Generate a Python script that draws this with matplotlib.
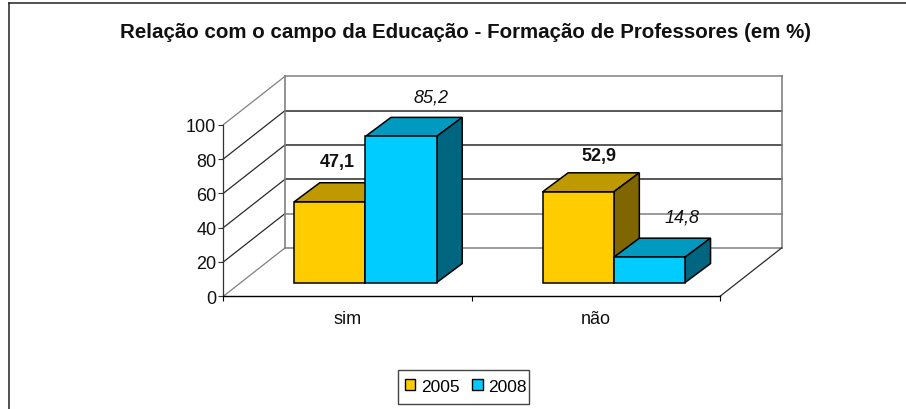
import matplotlib
matplotlib.use("Agg")
import matplotlib.pyplot as plt
from matplotlib.lines import Line2D
from matplotlib.patches import Patch, Rectangle

# data
categories = ["sim", "não"]
series_names = ["2005", "2008"]
values_2005 = [47.1, 52.9]
values_2008 = [85.2, 14.8]
labels_2005 = ["47,1", "52,9"]
labels_2008 = ["85,2", "14,8"]
y_ticks = [0, 20, 40, 60, 80, 100]

# style
W, H = 906, 410
plt.rcParams["font.family"] = ["Liberation Sans", "DejaVu Sans"]
fig = plt.figure(figsize=(W / 100, H / 100), dpi=100, facecolor="white")
L, R, B, T = 223.3, 720.0, 297.3, 125.7
ax = fig.add_axes([L / W, 1 - B / H, (R - L) / W, (B - T) / H])
ax.set_xlim(0, 2)
ax.set_ylim(0, 100)
ax.patch.set_alpha(0)

GRID, WALL = "#2a2a2a", "#808080"
lw_px = 0.9
wall_dx, wall_dy = 0.2484, 28.2      # depth of the plot box
bar_dx, bar_dy = 0.1027, 11.07       # depth of a bar
shift_x, lift = 0.0725, 8.0          # bar placement on the floor
bar_w = 0.2867
kw = dict(clip_on=False)

# walls and gridlines
for v in y_ticks:
    c = WALL if v in (0, 100) else GRID
    ax.plot([0, wall_dx], [v, v + wall_dy], color=c, lw=lw_px, zorder=1, **kw)
    ax.plot([wall_dx, 2 + wall_dx], [v + wall_dy, v + wall_dy],
            color=WALL if v in (0, 20, 100) else GRID, lw=lw_px + 0.2, zorder=1, **kw)
ax.plot([wall_dx, wall_dx], [wall_dy, 100 + wall_dy], color=WALL, lw=1.2, zorder=1, **kw)
ax.plot([2 + wall_dx, 2 + wall_dx], [wall_dy, 100 + wall_dy], color=WALL, lw=1.2, zorder=1, **kw)
ax.plot([2, 2 + wall_dx], [0, wall_dy], color=GRID, lw=lw_px, zorder=1, **kw)

series = [
    (values_2005, labels_2005, "#FFCC00", "#BF9900", "#7F6600", -1, "bold", "normal",
     [(7, -40), (21, -36)]),
    (values_2008, labels_2008, "#00CCFF", "#0099BF", "#006680", 0, "normal", "italic",
     [(30, -39), (33, -40)]),
]

z = 2
for i, cat in enumerate(categories):
    for vals, labs, front, top, side, pos, weight, style, offs in series:
        v = vals[i]
        x0 = i + 0.5 + shift_x + pos * bar_w
        x1 = x0 + bar_w
        y0, y1 = lift, lift + v
        ax.fill([x0, x1, x1 + bar_dx, x0 + bar_dx], [y1, y1, y1 + bar_dy, y1 + bar_dy],
                fc=top, ec="black", lw=1.1, zorder=z, joinstyle="miter", **kw)
        ax.fill([x1, x1 + bar_dx, x1 + bar_dx, x1], [y0, y0 + bar_dy, y1 + bar_dy, y1],
                fc=side, ec="black", lw=1.1, zorder=z, joinstyle="miter", **kw)
        ax.bar(x0, v, width=bar_w, bottom=lift, align="edge", color=front,
               edgecolor="black", linewidth=1.1, zorder=z + 0.5, **kw)
        z += 1
        dx, dy = offs[i]
        ax.annotate(labs[i], xy=(x0 + bar_w / 2, y1), xytext=(dx * 0.72, -dy * 0.72),
                    textcoords="offset points", ha="center", va="center",
                    fontsize=13, fontweight=weight, fontstyle=style,
                    color="#111111", zorder=50, annotation_clip=False)

# axes
for s in ("top", "right"):
    ax.spines[s].set_visible(False)
ax.spines["left"].set_color("#333333")
ax.spines["left"].set_linewidth(0.9)
ax.spines["bottom"].set_color("black")
ax.spines["bottom"].set_linewidth(1.0)
ax.spines["left"].set_zorder(10)
ax.spines["bottom"].set_zorder(10)
ax.set_yticks(y_ticks)
ax.tick_params(axis="y", labelsize=13, length=3.5, width=0.8, pad=1.5, color="#333333", labelcolor="#111111")
ax.set_xticks([0.5, 1.5], categories)
ax.set_xticks([0, 1, 2], minor=True)
ax.tick_params(axis="x", which="major", length=0, labelsize=13, pad=10, labelcolor="#111111")
ax.tick_params(axis="x", which="minor", length=3.5, width=0.8)

# title
fig.text(465.5 / W, 1 - 32 / H, "Relação com o campo da Educação - Formação de Professores (em %)",
         ha="center", va="center", fontsize=14.75, fontweight="bold", color="#111111")

# chart frame
fig.add_artist(Line2D([9.2 / W, 9.2 / W], [0, 1 - 3.5 / H], color="#222222", lw=1.1))
fig.add_artist(Line2D([9.2 / W, 1], [1 - 3.5 / H, 1 - 3.5 / H], color="#222222", lw=1.1))

# legend
fig.add_artist(Rectangle((397.5 / W, 1 - 405 / H), 131.5 / W, 34 / H, transform=fig.transFigure,
                         fc="white", ec="#444444", lw=1.0))
handles = [Patch(fc=s[2], ec="black", lw=1.0) for s in series]
leg = fig.legend(handles, series_names, ncol=2, loc="center left",
                 bbox_to_anchor=(405 / W, 1 - 387.5 / H), fontsize=12.5,
                 frameon=False, handlelength=0.6, handleheight=0.6, handletextpad=0.3,
                 columnspacing=0.75, borderpad=0, borderaxespad=0)

fig.savefig("out.png", dpi=100)
